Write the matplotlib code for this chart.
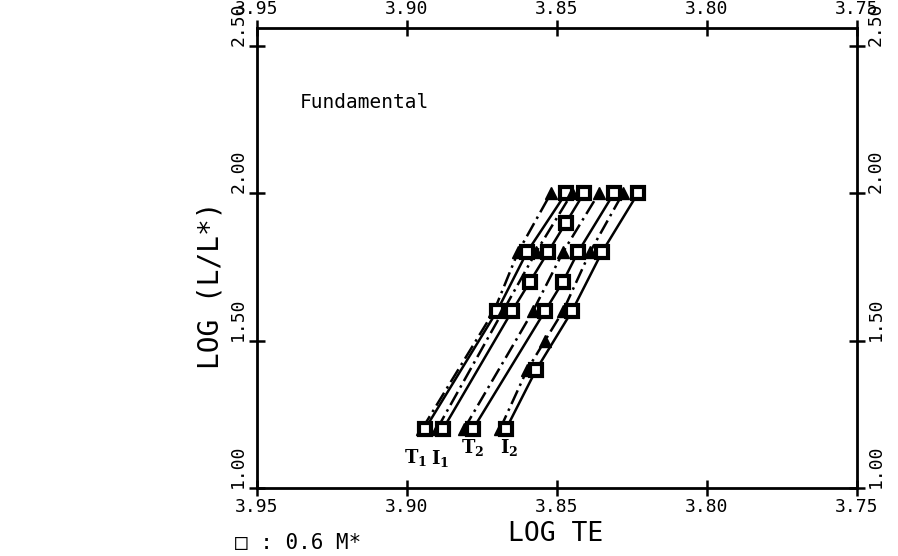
import numpy as np
import matplotlib
matplotlib.use("Agg")
import matplotlib.pyplot as plt

plt.rcParams['font.family'] = 'DejaVu Sans Mono'
plt.rcParams['mathtext.fontset'] = 'dejavuserif'

# log L rows and log Te of each edge sequence (tri = dashed, sq = solid)
L_1 = [1.2, 1.6, 1.8, 2.0]
te_1 = [3.895, 3.871, 3.863, 3.852]
L_2 = [1.2, 1.6, 1.8, 2.0]
te_2 = [3.894, 3.870, 3.860, 3.847]
L_3 = [1.2, 1.6, 1.8, 2.0]
te_3 = [3.890, 3.868, 3.857, 3.845]
L_4 = [1.2, 1.6, 1.7, 1.8, 1.9, 2.0]
te_4 = [3.888, 3.865, 3.859, 3.853, 3.847, 3.841]
L_5 = [1.2, 1.6, 1.8, 2.0]
te_5 = [3.881, 3.858, 3.848, 3.836]
L_6 = [1.2, 1.6, 1.7, 1.8, 2.0]
te_6 = [3.878, 3.854, 3.848, 3.843, 3.831]
L_7 = [1.2, 1.4, 1.5, 1.6, 1.8, 2.0]
te_7 = [3.869, 3.860, 3.854, 3.848, 3.839, 3.828]
L_8 = [1.2, 1.4, 1.6, 1.8, 2.0]
te_8 = [3.867, 3.857, 3.845, 3.835, 3.823]

series = [(te_1, L_1, '^'), (te_2, L_2, 's'), (te_3, L_3, '^'), (te_4, L_4, 's'),
          (te_5, L_5, '^'), (te_6, L_6, 's'), (te_7, L_7, '^'), (te_8, L_8, 's')]

edge_names = [r'$\mathbf{T_1}$', r'$\mathbf{I_1}$', r'$\mathbf{T_2}$', r'$\mathbf{I_2}$']
edge_te = [3.897, 3.889, 3.878, 3.866]
edge_L = [1.105, 1.10, 1.136, 1.136]

xticks = [3.95, 3.90, 3.85, 3.80, 3.75]
yticks = [1.00, 1.50, 2.00, 2.50]

fig = plt.figure(figsize=(8.98, 5.56), dpi=100)
ax = fig.add_axes([257/898, 1 - 488/556, 600/898, 460/556])

for te, L, m in series:
    ls = '-' if m == 's' else (0, (6, 2, 1, 2))
    ax.plot(te, L, color='black', lw=1.8, ls=ls)
    if m == 's':
        ax.plot(te, L, ls='none', marker='s', ms=9, mfc='white', mec='black', mew=3)
    else:
        ax.plot(te, L, ls='none', marker='^', ms=9, mfc='black', mec='black')

for name, x, y in zip(edge_names, edge_te, edge_L):
    ax.text(x, y, name, fontsize=13, ha='center', va='center')

ax.set_xlim(3.95, 3.75)
ax.set_ylim(1.0, 2.56)
ax.set_xticks(xticks)
ax.set_xticklabels(['%.2f' % v for v in xticks])
ax.set_yticks(yticks)
ax.set_yticklabels(['%.2f' % v for v in yticks], rotation=90, va='bottom')
ax.tick_params(axis='both', direction='inout', length=12, width=1.8, labelsize=13,
               top=True, right=True, labeltop=True, labelright=True, pad=1)
for s in ax.spines.values():
    s.set_linewidth(2)

fig.text(210/898, 1 - 285/556, 'LOG (L/L*)', rotation=90, fontsize=20,
         ha='center', va='center')
fig.text(556/898, 1 - 534/556, 'LOG TE', fontsize=19, ha='center', va='center')
fig.text(300/898, 1 - 102/556, 'Fundamental', fontsize=14, ha='left', va='center')
fig.text(235/898, 1 - 543/556, '\u25a1 : 0.6 M*', fontsize=15, ha='left', va='center')

fig.savefig('out.png', dpi=100)
